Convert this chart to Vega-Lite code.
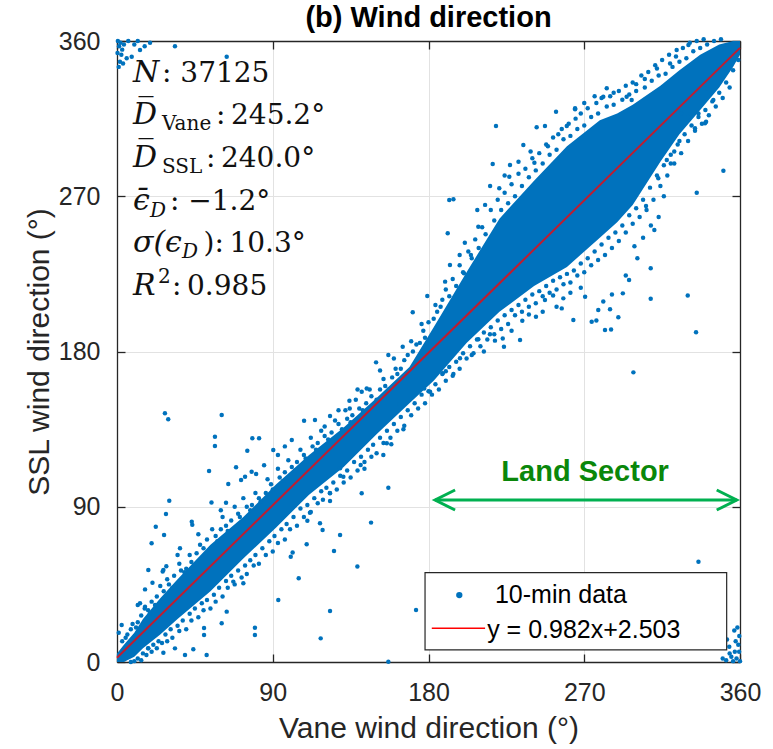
{
"$schema":"https://vega.github.io/schema/vega-lite/v6.json",
"width":623,"height":621,
"autosize":{"type":"none"},
"padding":{"left":117,"top":41,"right":33,"bottom":87},
"background":"white",
"config":{"view":{"stroke":null},"font":"Liberation Sans",
"axis":{"domainColor":"#262626","domainWidth":1.3,"tickColor":"#262626","tickWidth":1.3,"tickSize":-8,"labelFont":"Liberation Sans","labelFontSize":25,"labelColor":"#262626","titleFont":"Liberation Sans","titleFontSize":30,"titleFontWeight":"normal","titleColor":"#262626","gridColor":"#e2e2e2","gridWidth":1,"labelFlush":false,"labelOverlap":false}},
"title":{"text":"(b) Wind direction","font":"Liberation Sans","fontSize":29,"fontWeight":"bold","color":"#000000","anchor":"middle","baseline":"alphabetic","offset":1,"dy":28},
"datasets":{
"core":[{"x":0,"lo":0,"hi":5},{"x":4,"lo":0,"hi":10},{"x":10,"lo":3,"hi":17},{"x":15,"lo":8,"hi":25},{"x":25,"lo":16,"hi":37},{"x":35,"lo":25,"hi":48},{"x":54,"lo":41,"hi":68},{"x":73,"lo":60,"hi":84},{"x":92,"lo":78,"hi":103},{"x":111,"lo":97,"hi":120},{"x":131,"lo":113,"hi":136},{"x":150,"lo":132,"hi":153},{"x":169,"lo":150,"hi":171},{"x":183,"lo":163,"hi":194},{"x":202,"lo":185,"hi":226},{"x":221,"lo":203,"hi":257},{"x":241,"lo":218,"hi":279},{"x":260,"lo":229,"hi":299},{"x":279,"lo":246,"hi":314},{"x":289,"lo":255,"hi":318},{"x":298,"lo":265,"hi":323},{"x":314,"lo":290,"hi":334},{"x":325,"lo":306,"hi":343},{"x":337,"lo":320,"hi":352},{"x":348,"lo":333,"hi":358},{"x":356,"lo":345,"hi":360},{"x":360,"lo":352,"hi":360}],
"pts":[{"x":27.7,"y":144.2},{"x":29.6,"y":140.7},{"x":60.5,"y":143.2},{"x":56.6,"y":130.6},{"x":56.6,"y":125.2},{"x":30.2,"y":93.5},{"x":28.3,"y":85.8},{"x":22.4,"y":78.4},{"x":27.2,"y":73.6},{"x":20,"y":68.8},{"x":43.2,"y":81.3},{"x":53.2,"y":110.7},{"x":68.8,"y":112.9},{"x":75.3,"y":122.5},{"x":78.2,"y":129.7},{"x":82.1,"y":129.7},{"x":71.7,"y":105.5},{"x":77.8,"y":110.3},{"x":18.1,"y":53.3},{"x":16.2,"y":42.1},{"x":26.8,"y":53.3},{"x":26.4,"y":52.4},{"x":13.3,"y":34},{"x":16.2,"y":32},{"x":2.7,"y":21.4},{"x":1,"y":17},{"x":51.8,"y":4.1},{"x":156.8,"y":0.2},{"x":79.7,"y":19.9},{"x":79.7,"y":15.7},{"x":93.2,"y":35.9},{"x":117.7,"y":13.7},{"x":123.1,"y":29.6},{"x":172.8,"y":30.1},{"x":138.9,"y":55.3},{"x":146.8,"y":80.8},{"x":156.8,"y":101},{"x":105,"y":48.5},{"x":141.4,"y":97.8},{"x":128.9,"y":73.6},{"x":125.4,"y":64.3},{"x":117.3,"y":80.4},{"x":118.8,"y":76.5},{"x":100.4,"y":61},{"x":101.5,"y":63.5},{"x":109.6,"y":68.2},{"x":110,"y":81.9},{"x":111.5,"y":86.5},{"x":123.1,"y":97.8},{"x":123.1,"y":93.3},{"x":130.8,"y":107.4},{"x":128.9,"y":112.3},{"x":140.8,"y":114.2},{"x":143,"y":112},{"x":153.9,"y":120},{"x":155.9,"y":126.8},{"x":158.5,"y":126.2},{"x":165.5,"y":134.9},{"x":163.2,"y":149.6},{"x":188.2,"y":167.4},{"x":177.5,"y":158.5},{"x":180.9,"y":156.7},{"x":44.1,"y":7.4},{"x":39.3,"y":4.1},{"x":33.5,"y":7.9},{"x":26.8,"y":5.4},{"x":18.1,"y":7.9},{"x":60.5,"y":22.4},{"x":50.3,"y":19.7},{"x":50.3,"y":15.7},{"x":67.2,"y":46.6},{"x":73,"y":45.6},{"x":63.4,"y":29.2},
{"x":90.3,"y":122.9},{"x":93,"y":120},{"x":101,"y":128.7},{"x":108.1,"y":139.9},{"x":114.4,"y":140.3},{"x":123.1,"y":142.6},{"x":134.3,"y":151.5},{"x":149.7,"y":173.7},{"x":156.8,"y":178},{"x":165.1,"y":182.8},{"x":141.4,"y":156.7},{"x":144.3,"y":158.5},{"x":134.5,"y":147},{"x":74,"y":107.4},{"x":80.4,"y":109},{"x":64.3,"y":103.2},{"x":63,"y":92.3},{"x":54.6,"y":92.5},{"x":36.4,"y":65.9},{"x":43.5,"y":79.5},{"x":12,"y":33},{"x":20.5,"y":46},{"x":28.5,"y":55.5},{"x":35,"y":62},{"x":47,"y":74},{"x":60,"y":88},{"x":85,"y":114},{"x":97,"y":125},{"x":120,"y":136.5},{"x":128,"y":146},{"x":139,"y":158},{"x":152,"y":169},{"x":160,"y":176},{"x":170,"y":186},
{"x":219,"y":310.7},{"x":192,"y":267.8},{"x":194.4,"y":268.2},{"x":191.1,"y":248.5},{"x":192.4,"y":230.1},{"x":189.6,"y":220.5},{"x":179.3,"y":212.2},{"x":170.9,"y":202.7},{"x":208.2,"y":262},{"x":217.1,"y":288.7},{"x":227.1,"y":288.1},{"x":215.6,"y":276},{"x":242.5,"y":310},{"x":247.3,"y":310.7},{"x":253.7,"y":319},{"x":264.7,"y":320.4},{"x":234.8,"y":299.7},{"x":241.2,"y":289.4},{"x":226.7,"y":281.3},{"x":220.9,"y":274.6},{"x":212.7,"y":265},{"x":208.8,"y":252.3},{"x":200.5,"y":225.3},{"x":204.5,"y":236},{"x":184,"y":207},{"x":176,"y":196},
{"x":350.4,"y":284.8},{"x":335,"y":272},{"x":329.8,"y":212.4},{"x":334.6,"y":191.1},{"x":308.4,"y":210.6},{"x":308.4,"y":228.2},{"x":298.4,"y":167.9},{"x":310.5,"y":250.4},{"x":308.5,"y":253},{"x":300.7,"y":234},{"x":295.9,"y":221.4},{"x":292.3,"y":213.7},{"x":282,"y":192.5},{"x":285.5,"y":192.7},{"x":274.3,"y":197.3},{"x":277,"y":198},{"x":263.7,"y":198.3},{"x":270.5,"y":211.8},{"x":278.1,"y":204},{"x":284.9,"y":204.5},{"x":289.7,"y":199.8},{"x":257,"y":205},{"x":254,"y":206},{"x":257.9,"y":210.8},{"x":247.3,"y":209.9},{"x":242.1,"y":200.2},{"x":234.2,"y":197.8},{"x":232.9,"y":186.7},{"x":222.9,"y":187.6},{"x":223.6,"y":182.8},{"x":218.4,"y":186.3},{"x":215.5,"y":190},{"x":208.8,"y":187.1},{"x":198.2,"y":176.1},{"x":194.4,"y":167},{"x":190,"y":168.5},{"x":268,"y":217},{"x":262,"y":214},{"x":252,"y":212.5},{"x":246,"y":203},{"x":238,"y":201.5},{"x":228,"y":192},{"x":212,"y":180},{"x":205,"y":178},{"x":286,"y":213},{"x":281,"y":209},{"x":294,"y":224},{"x":299,"y":241},{"x":304,"y":246},{"x":313,"y":258},{"x":316,"y":270},{"x":340.4,"y":313.2},{"x":334,"y":309.4},{"x":330,"y":316},{"x":326,"y":318},{"x":317.7,"y":291},{"x":312.8,"y":280.4},{"x":305.7,"y":264.3},{"x":320,"y":289},{"x":322,"y":296},{"x":325,"y":302},
{"x":323.4,"y":354.8},{"x":330.2,"y":357.7},{"x":319.6,"y":347},{"x":283,"y":332.6},{"x":281,"y":327.7},{"x":294.5,"y":327.7},{"x":297.4,"y":325.8},{"x":264.7,"y":321},{"x":259.9,"y":310.7},{"x":270,"y":324},{"x":276,"y":328},{"x":340.8,"y":332.6},{"x":344.6,"y":325.8},{"x":339.8,"y":312.3},{"x":336,"y":318},{"x":351.4,"y":344.1},{"x":287,"y":330},{"x":305,"y":338},{"x":312,"y":344},{"x":300,"y":335},{"x":255,"y":306},{"x":248,"y":300},{"x":239,"y":296},{"x":232,"y":290},{"x":224,"y":282},{"x":201,"y":243},{"x":198,"y":236},
{"x":0.5,"y":360},{"x":1.2,"y":357},{"x":2,"y":359},{"x":3,"y":355},{"x":1.7,"y":348},{"x":2.5,"y":352},{"x":4,"y":358},{"x":5.6,"y":350},{"x":6.5,"y":360},{"x":8.5,"y":350.9},{"x":13.3,"y":354.8},{"x":19.1,"y":359},{"x":33.5,"y":357},{"x":63.4,"y":350.9},{"x":0.3,"y":353},{"x":1,"y":345},{"x":3.5,"y":347},{"x":10,"y":358},{"x":12,"y":360},{"x":16,"y":357},
{"x":356.7,"y":18.2},{"x":359.6,"y":15.1},{"x":353.8,"y":8.9},{"x":359,"y":10},{"x":357,"y":6},{"x":355,"y":3},{"x":358,"y":2},{"x":360,"y":0.5},{"x":352,"y":1},{"x":354,"y":5},{"x":357.5,"y":12},{"x":359.5,"y":6},{"x":356,"y":0.5},{"x":350,"y":2},{"x":358.5,"y":20},{"x":336,"y":58.1},{"x":352.5,"y":13},
{"x":3,"y":12},{"x":6,"y":16},{"x":8,"y":19},{"x":12,"y":23},{"x":14,"y":27},{"x":18,"y":30},{"x":20,"y":35},{"x":23,"y":38},{"x":27,"y":41},{"x":30,"y":45},{"x":33,"y":50},{"x":37,"y":53},{"x":40,"y":54},{"x":43,"y":58},{"x":46,"y":63},{"x":50,"y":66},{"x":52,"y":71},{"x":57,"y":73},{"x":60,"y":77},{"x":63,"y":79},{"x":66,"y":82},{"x":70,"y":86},{"x":75,"y":90},{"x":78,"y":91},{"x":82,"y":95},{"x":86,"y":98},{"x":89,"y":103},{"x":94,"y":107},{"x":97,"y":110},{"x":101,"y":113},{"x":104,"y":116},{"x":108,"y":120},{"x":113,"y":125},{"x":116,"y":127},{"x":120,"y":131},{"x":124,"y":133},{"x":128,"y":138},{"x":133,"y":141},{"x":136,"y":143},{"x":140,"y":147},{"x":144,"y":150},{"x":147,"y":154},{"x":152,"y":158},{"x":155,"y":160},{"x":159,"y":165},{"x":162,"y":167},{"x":166,"y":175},{"x":171,"y":180},{"x":175,"y":185},{"x":178,"y":188},{"x":183,"y":199},{"x":187,"y":206},{"x":192,"y":212},{"x":196,"y":218},{"x":200,"y":226},{"x":205,"y":234},{"x":209,"y":240},{"x":213,"y":248},{"x":218,"y":256},{"x":222,"y":262},{"x":226,"y":266},{"x":230,"y":270},{"x":234,"y":276},{"x":238,"y":281},{"x":242,"y":285},{"x":246,"y":289},{"x":250,"y":294},{"x":254,"y":297},{"x":258,"y":303},{"x":262,"y":305},{"x":266,"y":309},{"x":270,"y":311},{"x":274,"y":316},{"x":278,"y":318},{"x":283,"y":322},{"x":287,"y":323},{"x":292,"y":326},{"x":296,"y":329},{"x":300,"y":331},{"x":305,"y":333},{"x":309,"y":337},{"x":313,"y":340},{"x":317,"y":341},{"x":321,"y":345},{"x":325,"y":348},{"x":329,"y":350},{"x":333,"y":354},{"x":337,"y":356},{"x":341,"y":358},{"x":345,"y":360},{"x":349,"y":361},
{"x":8,"y":0},{"x":12,"y":2},{"x":15,"y":5},{"x":18,"y":8},{"x":21,"y":10},{"x":24,"y":12},{"x":28,"y":16},{"x":31,"y":19},{"x":35,"y":21},{"x":38,"y":24},{"x":42,"y":28},{"x":45,"y":31},{"x":49,"y":34},{"x":52,"y":36},{"x":56,"y":39},{"x":59,"y":43},{"x":63,"y":47},{"x":66,"y":50},{"x":70,"y":53},{"x":74,"y":56},{"x":77,"y":59},{"x":80,"y":62},{"x":84,"y":66},{"x":88,"y":70},{"x":91,"y":73},{"x":95,"y":77},{"x":98,"y":80},{"x":102,"y":84},{"x":106,"y":89},{"x":110,"y":91},{"x":114,"y":95},{"x":118,"y":99},{"x":121,"y":101},{"x":125,"y":104},{"x":129,"y":108},{"x":133,"y":111},{"x":137,"y":116},{"x":141,"y":119},{"x":145,"y":123},{"x":148,"y":126},{"x":152,"y":130},{"x":156,"y":134},{"x":160,"y":138},{"x":164,"y":142},{"x":168,"y":146},{"x":172,"y":150},{"x":176,"y":155},{"x":180,"y":157},{"x":184,"y":161},{"x":188,"y":167},{"x":192,"y":171},{"x":196,"y":174},{"x":200,"y":179},{"x":204,"y":183},{"x":208,"y":187},{"x":212,"y":191},{"x":216,"y":194},{"x":220,"y":198},{"x":224,"y":201},{"x":228,"y":204},{"x":232,"y":207},{"x":236,"y":210},{"x":240,"y":213},{"x":244,"y":215},{"x":248,"y":218},{"x":252,"y":221},{"x":256,"y":223},{"x":260,"y":225},{"x":264,"y":227},{"x":268,"y":231},{"x":272,"y":234},{"x":276,"y":238},{"x":280,"y":242},{"x":284,"y":246},{"x":288,"y":249},{"x":292,"y":253},{"x":296,"y":259},{"x":300,"y":263},{"x":304,"y":268},{"x":308,"y":275},{"x":312,"y":282},{"x":316,"y":288},{"x":320,"y":294},{"x":324,"y":300},{"x":328,"y":306},{"x":332,"y":311},{"x":336,"y":316},{"x":340,"y":320},{"x":344,"y":325},{"x":348,"y":330},{"x":352,"y":336},{"x":356,"y":343},{"x":359,"y":349},
{"x":5,"y":14},{"x":9,"y":22},{"x":11,"y":20},{"x":16,"y":31},{"x":19,"y":28},{"x":22,"y":33},{"x":25,"y":44},{"x":29,"y":48},{"x":32,"y":43},{"x":36,"y":57},{"x":39,"y":52},{"x":42,"y":62},{"x":44,"y":55},{"x":48,"y":68},{"x":51,"y":62},{"x":55,"y":77},{"x":58,"y":70},{"x":61,"y":84},{"x":64,"y":76},{"x":68,"y":90},{"x":71,"y":84},{"x":73,"y":95},{"x":77,"y":88},{"x":80,"y":98},{"x":83,"y":93},{"x":87,"y":106},{"x":90,"y":100},{"x":93,"y":112},{"x":96,"y":105},{"x":99,"y":117},{"x":103,"y":111},{"x":106,"y":123},{"x":109,"y":118},{"x":112,"y":130},{"x":115,"y":123},{"x":118,"y":134},{"x":122,"y":129},{"x":126,"y":140},{"x":130,"y":135},{"x":132,"y":146},{"x":135,"y":139},{"x":138,"y":152},{"x":142,"y":146},{"x":146,"y":158},{"x":150,"y":152},{"x":154,"y":164},{"x":157,"y":158},{"x":161,"y":170},{"x":164,"y":170},{"x":168,"y":178},{"x":173,"y":184},{"x":177,"y":192},{"x":180,"y":197},{"x":185,"y":203},{"x":188,"y":210},{"x":190,"y":216},{"x":194,"y":222},{"x":198,"y":230},{"x":203,"y":238},
{"x":10,"y":0.5},{"x":14,"y":1},{"x":17,"y":4},{"x":20,"y":6},{"x":23,"y":8},{"x":26,"y":11},{"x":29,"y":12},{"x":32,"y":14},{"x":36,"y":18},{"x":40,"y":19},{"x":43,"y":24},{"x":47,"y":26},{"x":50,"y":30},{"x":54,"y":31},{"x":57,"y":35},{"x":61,"y":38},{"x":64,"y":43},{"x":68,"y":45},{"x":72,"y":49},{"x":75,"y":51},{"x":79,"y":56},{"x":82,"y":57},{"x":86,"y":62},{"x":90,"y":64},{"x":93,"y":69},{"x":97,"y":71},{"x":100,"y":77},{"x":104,"y":79},{"x":108,"y":84},{"x":112,"y":87},{"x":116,"y":92},{"x":119,"y":94},{"x":123,"y":98},{"x":127,"y":100},{"x":131,"y":104},{"x":135,"y":107},{"x":139,"y":111},{"x":143,"y":116},{"x":147,"y":119},{"x":150,"y":121},{"x":154,"y":127},{"x":158,"y":130},{"x":162,"y":134},{"x":166,"y":137},{"x":170,"y":143},{"x":174,"y":147},{"x":178,"y":150},{"x":182,"y":155},{"x":186,"y":158},{"x":190,"y":163},{"x":194,"y":166},{"x":198,"y":170},{"x":202,"y":176},{"x":206,"y":179},{"x":210,"y":183},{"x":214,"y":187},{"x":218,"y":190},{"x":222,"y":193},{"x":226,"y":196},{"x":230,"y":201},{"x":234,"y":203},{"x":238,"y":206},{"x":242,"y":208},{"x":246,"y":212},{"x":250,"y":214},{"x":254,"y":216},{"x":258,"y":219},{"x":262,"y":220},{"x":266,"y":224},{"x":270,"y":226},{"x":274,"y":230},{"x":278,"y":233},{"x":282,"y":236},{"x":286,"y":240},{"x":290,"y":244},{"x":294,"y":249},{"x":298,"y":254},{"x":302,"y":258},{"x":306,"y":262},{"x":310,"y":268},{"x":314,"y":276},{"x":318,"y":282},{"x":322,"y":289},{"x":326,"y":295},{"x":330,"y":302},{"x":334,"y":308},{"x":338,"y":312},{"x":342,"y":317},{"x":346,"y":322},{"x":350,"y":327},{"x":354,"y":333},
{"x":207,"y":245},{"x":211,"y":252},{"x":216,"y":262},{"x":220,"y":268},{"x":224,"y":272},{"x":228,"y":277},{"x":232,"y":283},{"x":236,"y":286},{"x":240,"y":292},{"x":244,"y":295},{"x":249,"y":299},{"x":252,"y":304},{"x":257,"y":309},{"x":261,"y":312},{"x":265,"y":315},{"x":268,"y":318},{"x":272,"y":321},{"x":277,"y":324},{"x":280,"y":327},{"x":285,"y":328},{"x":290,"y":331},{"x":294,"y":334},{"x":298,"y":336},{"x":303,"y":340},{"x":307,"y":342},{"x":311,"y":346},{"x":315,"y":349},{"x":319,"y":352},{"x":323,"y":351},{"x":327,"y":356},{"x":331,"y":359},{"x":335,"y":360},{"x":339,"y":361}],
"fit":[{"x":0,"y":2.503},{"x":360,"y":356.0}],
"lbox":[{"x":178,"x2":352.3,"y":7,"y2":51.8}],
"lsym":[{"x":197.8,"y":38.8}],
"lline":[{"x":181.9,"x2":212.7,"y":19.5}],
"ltext":[{"x":218.4,"y":38.8,"t":"10-min data"},{"x":213.9,"y":18.5,"t":"y = 0.982x+2.503"}],
"shaft":[{"x":183.8,"x2":358.1,"y":93.9}],
"heads":[{"x":183.8,"y":93.9,"side":"L"},{"x":358.1,"y":93.9,"side":"R"}],
"land":[{"x":270.5,"y":110.3,"t":"Land Sector"}],
"sym":[{"x":9.2,"y":336.2,"t":"N"},{"x":9.2,"y":311.9,"t":"D̅"},{"x":9.2,"y":287,"t":"D̅"},{"x":9.2,"y":262,"t":"ϵ̄"},{"x":9.2,"y":237.7,"t":"σ(ϵ"},{"x":9.2,"y":212.8,"t":"R"}],
"sub":[{"x":26,"y":308.4,"t":"Vane"},{"x":26,"y":283.5,"t":"SSL"},{"x":23.7,"y":219.7,"t":"2"}],
"subi":[{"x":19.1,"y":258,"t":"D"},{"x":37.5,"y":234.2,"t":"D"}],
"rest":[{"x":26,"y":336.2,"t":": 37125"},{"x":57.2,"y":311.9,"t":":\u2009245.2°"},{"x":51.4,"y":287,"t":":\u2009240.0°"},{"x":30.6,"y":262,"t":": −1.2°"},{"x":50,"y":237.7,"t":"):\u200910.3°"},{"x":31.8,"y":212.8,"t":":\u20090.985"}]
},
"layer":[
{"data":{"name":"core"},"mark":{"type":"area","color":"#0072BD","opacity":1,"interpolate":"linear"},
"encoding":{"x":{"field":"x","type":"quantitative","scale":{"domain":[0,360],"nice":false,"zero":false},"axis":{"orient":"bottom","values":[0,90,180,270,360],"title":"Vane wind direction (°)","grid":true,"labelPadding":26,"titlePadding":8}},
"y":{"field":"lo","type":"quantitative","scale":{"domain":[0,360],"nice":false,"zero":false},"axis":{"orient":"left","values":[0,90,180,270,360],"title":"SSL wind direction (°)","grid":true,"labelPadding":25,"titlePadding":4}},
"y2":{"field":"hi"}}},
{"data":{"name":"pts"},"mark":{"type":"circle","size":20,"color":"#0072BD","opacity":1},
"encoding":{"x":{"field":"x","type":"quantitative","scale":{"domain":[0,360],"nice":false,"zero":false},"axis":null},"y":{"field":"y","type":"quantitative","scale":{"domain":[0,360],"nice":false,"zero":false},"axis":null}}},
{"data":{"name":"fit"},"mark":{"type":"line","color":"#ff0000","strokeWidth":2,"opacity":0.75},
"encoding":{"x":{"field":"x","type":"quantitative","scale":{"domain":[0,360],"nice":false,"zero":false},"axis":{"orient":"top","values":[0,90,180,270,360],"labels":false,"title":null,"grid":false}},
"y":{"field":"y","type":"quantitative","scale":{"domain":[0,360],"nice":false,"zero":false},"axis":{"orient":"right","values":[0,90,180,270,360],"labels":false,"title":null,"grid":false}}}},
{"data":{"name":"lbox"},"mark":{"type":"rect","fill":"white","stroke":"#262626","strokeWidth":1.2},
"encoding":{"x":{"field":"x","type":"quantitative","scale":{"domain":[0,360],"nice":false,"zero":false},"axis":null},"x2":{"field":"x2"},"y":{"field":"y","type":"quantitative","scale":{"domain":[0,360],"nice":false,"zero":false},"axis":null},"y2":{"field":"y2"}}},
{"data":{"name":"lsym"},"mark":{"type":"circle","size":40,"color":"#0072BD","opacity":1},
"encoding":{"x":{"field":"x","type":"quantitative","scale":{"domain":[0,360],"nice":false,"zero":false},"axis":null},"y":{"field":"y","type":"quantitative","scale":{"domain":[0,360],"nice":false,"zero":false},"axis":null}}},
{"data":{"name":"lline"},"mark":{"type":"rule","color":"#ff0000","strokeWidth":1.5},
"encoding":{"x":{"field":"x","type":"quantitative","scale":{"domain":[0,360],"nice":false,"zero":false},"axis":null},"x2":{"field":"x2"},"y":{"field":"y","type":"quantitative","scale":{"domain":[0,360],"nice":false,"zero":false},"axis":null}}},
{"data":{"name":"ltext"},"mark":{"type":"text","align":"left","baseline":"middle","font":"Liberation Sans","fontSize":25,"color":"#000000"},
"encoding":{"x":{"field":"x","type":"quantitative","scale":{"domain":[0,360],"nice":false,"zero":false},"axis":null},"y":{"field":"y","type":"quantitative","scale":{"domain":[0,360],"nice":false,"zero":false},"axis":null},"text":{"field":"t"}}},
{"data":{"name":"shaft"},"mark":{"type":"rule","color":"#00B050","strokeWidth":3},
"encoding":{"x":{"field":"x","type":"quantitative","scale":{"domain":[0,360],"nice":false,"zero":false},"axis":null},"x2":{"field":"x2"},"y":{"field":"y","type":"quantitative","scale":{"domain":[0,360],"nice":false,"zero":false},"axis":null}}},
{"data":{"name":"heads"},"mark":{"type":"point","filled":false,"size":400,"color":"#00B050","strokeWidth":3,"opacity":1},
"encoding":{"x":{"field":"x","type":"quantitative","scale":{"domain":[0,360],"nice":false,"zero":false},"axis":null},"y":{"field":"y","type":"quantitative","scale":{"domain":[0,360],"nice":false,"zero":false},"axis":null},
"shape":{"field":"side","type":"nominal","scale":{"domain":["L","R"],"range":["M2,-1L0,0L2,1","M-2,-1L0,0L-2,1"]},"legend":null}}},
{"data":{"name":"land"},"mark":{"type":"text","align":"center","baseline":"middle","font":"Liberation Sans","fontSize":29,"fontWeight":"bold","color":"#0a870a"},
"encoding":{"x":{"field":"x","type":"quantitative","scale":{"domain":[0,360],"nice":false,"zero":false},"axis":null},"y":{"field":"y","type":"quantitative","scale":{"domain":[0,360],"nice":false,"zero":false},"axis":null},"text":{"field":"t"}}},
{"data":{"name":"sym"},"mark":{"type":"text","align":"left","baseline":"alphabetic","font":"DejaVu Serif","fontSize":30,"fontStyle":"italic","color":"#111111"},
"encoding":{"x":{"field":"x","type":"quantitative","scale":{"domain":[0,360],"nice":false,"zero":false},"axis":null},"y":{"field":"y","type":"quantitative","scale":{"domain":[0,360],"nice":false,"zero":false},"axis":null},"text":{"field":"t"}}},
{"data":{"name":"sub"},"mark":{"type":"text","align":"left","baseline":"alphabetic","font":"DejaVu Serif","fontSize":20,"color":"#111111"},
"encoding":{"x":{"field":"x","type":"quantitative","scale":{"domain":[0,360],"nice":false,"zero":false},"axis":null},"y":{"field":"y","type":"quantitative","scale":{"domain":[0,360],"nice":false,"zero":false},"axis":null},"text":{"field":"t"}}},
{"data":{"name":"subi"},"mark":{"type":"text","align":"left","baseline":"alphabetic","font":"DejaVu Serif","fontSize":20,"fontStyle":"italic","color":"#111111"},
"encoding":{"x":{"field":"x","type":"quantitative","scale":{"domain":[0,360],"nice":false,"zero":false},"axis":null},"y":{"field":"y","type":"quantitative","scale":{"domain":[0,360],"nice":false,"zero":false},"axis":null},"text":{"field":"t"}}},
{"data":{"name":"rest"},"mark":{"type":"text","align":"left","baseline":"alphabetic","font":"DejaVu Serif","fontSize":28,"color":"#111111"},
"encoding":{"x":{"field":"x","type":"quantitative","scale":{"domain":[0,360],"nice":false,"zero":false},"axis":null},"y":{"field":"y","type":"quantitative","scale":{"domain":[0,360],"nice":false,"zero":false},"axis":null},"text":{"field":"t"}}}
],
"resolve":{"axis":{"x":"independent","y":"independent"}}
}
